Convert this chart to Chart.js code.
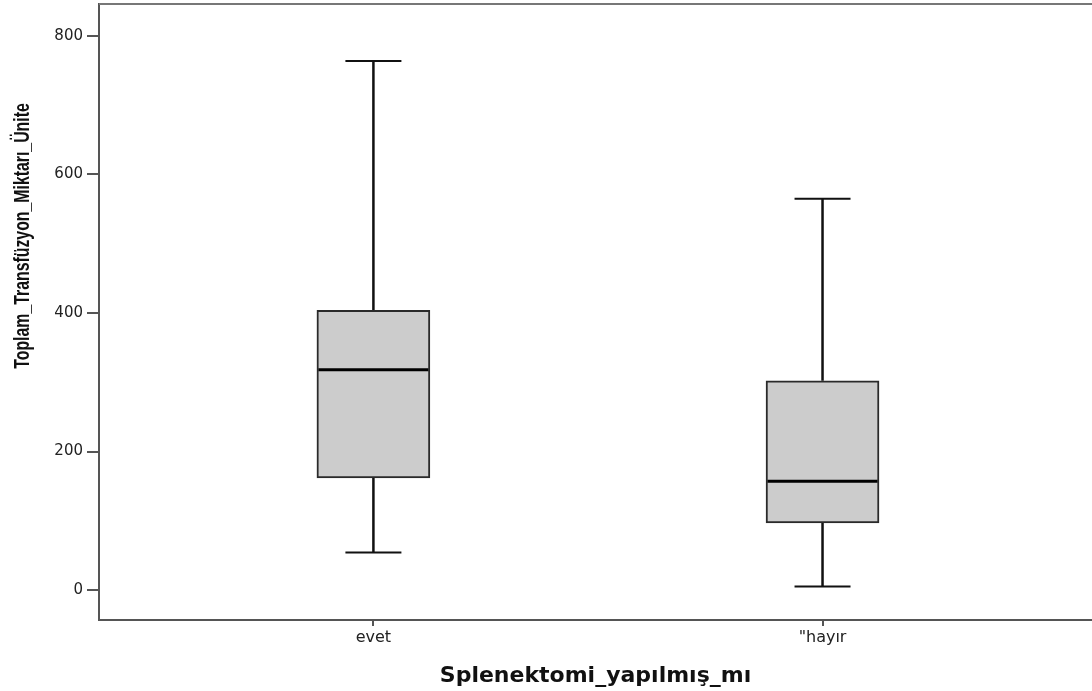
<!DOCTYPE html>
<html>
<head>
<meta charset="utf-8">
<script src="https://cdn.jsdelivr.net/npm/chart.js@4/dist/chart.umd.min.js"></script>
<style>
  html, body { margin: 0; padding: 0; background: #fff; overflow: hidden; }
  canvas { display: block; }
</style>
</head>
<body>
<canvas id="box-chart" width="1092" height="691"></canvas>
<script>
// boxplot summary values
const groups = ["evet", "\"hayır"];
const whiskerLow = [54, 5];
const q1 = [162, 97];
const median = [318, 157];
const q3 = [404, 302];
const whiskerHigh = [764, 565];
const yTicks = [0, 200, 400, 600, 800];
const groupPositions = [0, 1];

const yTitle = "Toplam_Transfüzyon_Miktarı_Ünite";
const xTitle = "Splenektomi_yapılmış_mı";

const boxData = groupPositions.map((x, i) => ({ x: x, y: [q1[i], q3[i]] }));

// whiskers, caps, medians, top frame and the y title
const boxplotLines = {
  id: "boxplotLines",
  beforeDatasetsDraw(chart) {
    const { ctx, scales: { x, y } } = chart;
    ctx.save();
    ctx.strokeStyle = "#111";
    groupPositions.forEach((pos, i) => {
      const px = x.getPixelForValue(pos);
      ctx.lineWidth = 2.5;
      ctx.beginPath();
      ctx.moveTo(px, y.getPixelForValue(whiskerHigh[i]));
      ctx.lineTo(px, y.getPixelForValue(q3[i]));
      ctx.moveTo(px, y.getPixelForValue(q1[i]));
      ctx.lineTo(px, y.getPixelForValue(whiskerLow[i]));
      ctx.stroke();
      ctx.lineWidth = 2;
      ctx.beginPath();
      [whiskerHigh[i], whiskerLow[i]].forEach(v => {
        const py = y.getPixelForValue(v);
        ctx.moveTo(px - 28, py);
        ctx.lineTo(px + 28, py);
      });
      ctx.stroke();
    });
    ctx.restore();
  },
  afterDatasetsDraw(chart) {
    const { ctx, chartArea, scales: { x, y } } = chart;
    ctx.save();
    ctx.strokeStyle = "#000";
    ctx.lineWidth = 3;
    groupPositions.forEach((pos, i) => {
      const px = x.getPixelForValue(pos);
      const py = y.getPixelForValue(median[i]);
      ctx.beginPath();
      ctx.moveTo(px - 55, py);
      ctx.lineTo(px + 55, py);
      ctx.stroke();
    });
    ctx.strokeStyle = "#777";
    ctx.lineWidth = 2;
    ctx.beginPath();
    ctx.moveTo(chartArea.left, chartArea.top);
    ctx.lineTo(chartArea.right, chartArea.top);
    ctx.stroke();

    // narrow bold title, squeezed along its length like the original
    ctx.translate(23, 236);
    ctx.rotate(-Math.PI / 2);
    ctx.scale(0.72, 1);
    ctx.fillStyle = "#111";
    ctx.font = "bold 22px 'Liberation Sans', Arial, sans-serif";
    ctx.textAlign = "center";
    ctx.textBaseline = "middle";
    ctx.fillText(yTitle, 0, 0);
    ctx.restore();
  }
};

new Chart(document.getElementById("box-chart"), {
  type: "bar",
  data: {
    datasets: [{
      data: boxData,
      backgroundColor: "#cccccc",
      borderColor: "#2a2a2a",
      borderWidth: 2,
      borderSkipped: false,
      barThickness: 113
    }]
  },
  options: {
    responsive: false,
    animation: false,
    layout: { padding: { top: 4, left: 0, right: 0, bottom: 0 } },
    plugins: {
      legend: { display: false },
      tooltip: { enabled: false }
    },
    scales: {
      x: {
        type: "linear",
        offset: false,
        min: -0.611,
        max: 1.6,
        afterBuildTicks: scale => { scale.ticks = groupPositions.map(v => ({ value: v })); },
        afterFit: scale => { scale.height = 71; scale.paddingLeft = 0; scale.paddingRight = 0; },
        ticks: {
          callback: (v) => groups[groupPositions.indexOf(v)] ?? "",
          color: "#222",
          font: { family: "'DejaVu Sans', sans-serif", size: 16 },
          padding: 2,
          maxRotation: 0
        },
        grid: { offset: false, drawOnChartArea: false, drawTicks: true, tickLength: 6, color: "#555", lineWidth: 2 },
        border: { display: true, color: "#555", width: 2 },
        title: {
          display: true,
          text: xTitle,
          color: "#111",
          font: { family: "'DejaVu Sans', sans-serif", size: 22, weight: "bold", lineHeight: 1.2 },
          padding: { top: 0, bottom: 2 }
        }
      },
      y: {
        min: -43.3,
        max: 846.2,
        afterBuildTicks: scale => { scale.ticks = yTicks.map(v => ({ value: v })); },
        afterFit: scale => { scale.width = 99; scale.paddingTop = 0; scale.paddingBottom = 0; },
        ticks: {
          color: "#222",
          font: { family: "'DejaVu Sans', sans-serif", size: 15 },
          padding: 4
        },
        grid: { drawOnChartArea: false, drawTicks: true, tickLength: 12, color: "#555", lineWidth: 2 },
        border: { display: true, color: "#555", width: 2 }
      }
    }
  },
  plugins: [boxplotLines]
});
</script>
</body>
</html>
